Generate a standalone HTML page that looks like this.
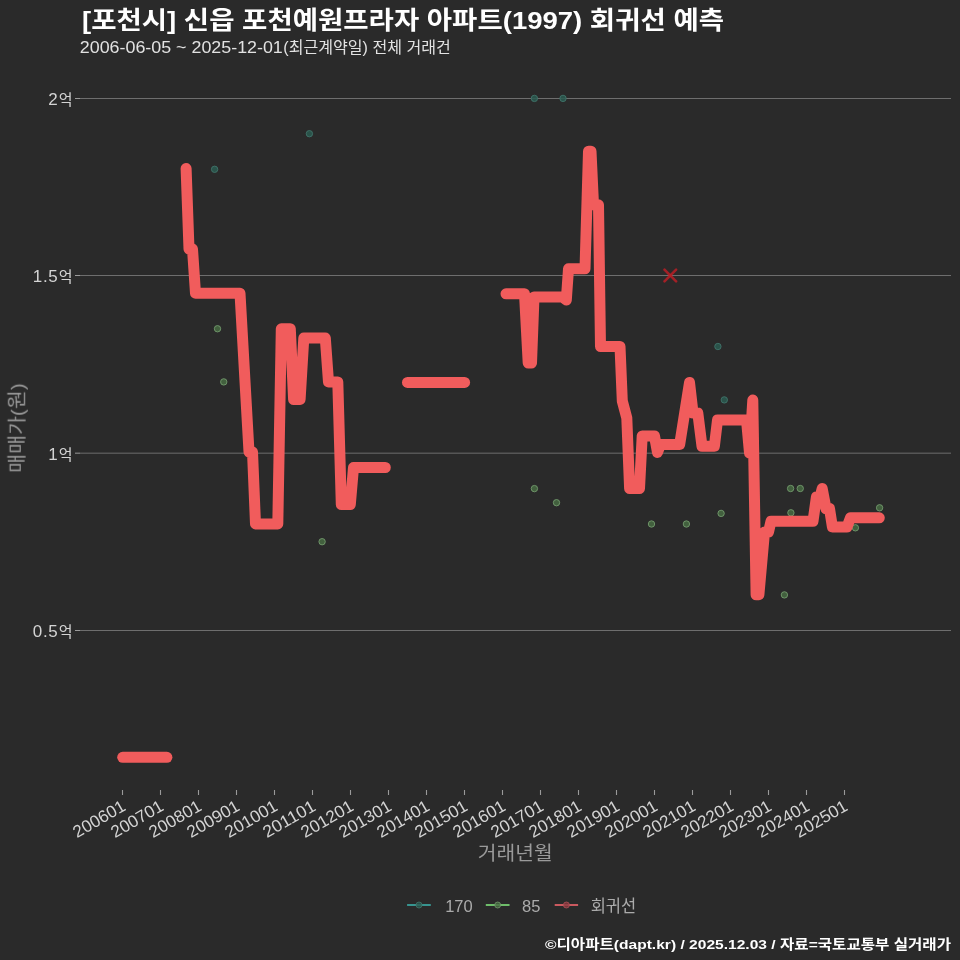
<!DOCTYPE html>
<html><head><meta charset="utf-8"><style>
html,body{margin:0;padding:0;background:#2a2a2a;}
svg{display:block;}
text{font-family:"Liberation Sans", "Noto Sans CJK KR", sans-serif;}
</style></head><body>
<svg width="960" height="960" viewBox="0 0 960 960">
<defs><filter id="gs" x="0" y="0" width="960" height="960" filterUnits="userSpaceOnUse"><feColorMatrix type="identity"/></filter></defs>
<rect width="960" height="960" fill="#2a2a2a"/>
<line x1="80" y1="98.5" x2="951" y2="98.5" stroke="#6e6e6e" stroke-width="1"/>
<line x1="75" y1="98.5" x2="80" y2="98.5" stroke="#9a9a9a" stroke-width="1"/>
<line x1="80" y1="275.5" x2="951" y2="275.5" stroke="#6e6e6e" stroke-width="1"/>
<line x1="75" y1="275.5" x2="80" y2="275.5" stroke="#9a9a9a" stroke-width="1"/>
<line x1="80" y1="453.17" x2="951" y2="453.17" stroke="#6e6e6e" stroke-width="1"/>
<line x1="75" y1="453.17" x2="80" y2="453.17" stroke="#9a9a9a" stroke-width="1"/>
<line x1="80" y1="630.5" x2="951" y2="630.5" stroke="#6e6e6e" stroke-width="1"/>
<line x1="75" y1="630.5" x2="80" y2="630.5" stroke="#9a9a9a" stroke-width="1"/>
<line x1="122.5" y1="790" x2="122.5" y2="795" stroke="#9a9a9a" stroke-width="1.1"/>
<line x1="160.5" y1="790" x2="160.5" y2="795" stroke="#9a9a9a" stroke-width="1.1"/>
<line x1="198.5" y1="790" x2="198.5" y2="795" stroke="#9a9a9a" stroke-width="1.1"/>
<line x1="236.5" y1="790" x2="236.5" y2="795" stroke="#9a9a9a" stroke-width="1.1"/>
<line x1="274.5" y1="790" x2="274.5" y2="795" stroke="#9a9a9a" stroke-width="1.1"/>
<line x1="312.5" y1="790" x2="312.5" y2="795" stroke="#9a9a9a" stroke-width="1.1"/>
<line x1="350.5" y1="790" x2="350.5" y2="795" stroke="#9a9a9a" stroke-width="1.1"/>
<line x1="388.5" y1="790" x2="388.5" y2="795" stroke="#9a9a9a" stroke-width="1.1"/>
<line x1="426.5" y1="790" x2="426.5" y2="795" stroke="#9a9a9a" stroke-width="1.1"/>
<line x1="464.5" y1="790" x2="464.5" y2="795" stroke="#9a9a9a" stroke-width="1.1"/>
<line x1="502.5" y1="790" x2="502.5" y2="795" stroke="#9a9a9a" stroke-width="1.1"/>
<line x1="540.5" y1="790" x2="540.5" y2="795" stroke="#9a9a9a" stroke-width="1.1"/>
<line x1="578.5" y1="790" x2="578.5" y2="795" stroke="#9a9a9a" stroke-width="1.1"/>
<line x1="616.5" y1="790" x2="616.5" y2="795" stroke="#9a9a9a" stroke-width="1.1"/>
<line x1="654.5" y1="790" x2="654.5" y2="795" stroke="#9a9a9a" stroke-width="1.1"/>
<line x1="692.5" y1="790" x2="692.5" y2="795" stroke="#9a9a9a" stroke-width="1.1"/>
<line x1="730.5" y1="790" x2="730.5" y2="795" stroke="#9a9a9a" stroke-width="1.1"/>
<line x1="768.5" y1="790" x2="768.5" y2="795" stroke="#9a9a9a" stroke-width="1.1"/>
<line x1="806.5" y1="790" x2="806.5" y2="795" stroke="#9a9a9a" stroke-width="1.1"/>
<line x1="844.5" y1="790" x2="844.5" y2="795" stroke="#9a9a9a" stroke-width="1.1"/>
<circle cx="214.6" cy="169.3" r="3.2" fill="#2a5a50" fill-opacity="0.85" stroke="#41736a" stroke-width="0.9"/>
<circle cx="309.4" cy="133.7" r="3.2" fill="#2a5a50" fill-opacity="0.85" stroke="#41736a" stroke-width="0.9"/>
<circle cx="534.4" cy="98.4" r="3.2" fill="#2a5a50" fill-opacity="0.85" stroke="#41736a" stroke-width="0.9"/>
<circle cx="563" cy="98.4" r="3.2" fill="#2a5a50" fill-opacity="0.85" stroke="#41736a" stroke-width="0.9"/>
<circle cx="717.9" cy="346.5" r="3.2" fill="#2a5a50" fill-opacity="0.85" stroke="#41736a" stroke-width="0.9"/>
<circle cx="724.3" cy="399.9" r="3.2" fill="#2a5a50" fill-opacity="0.85" stroke="#41736a" stroke-width="0.9"/>
<circle cx="217.5" cy="328.75" r="3.2" fill="#476a42" fill-opacity="0.85" stroke="#739a6d" stroke-width="0.9"/>
<circle cx="223.75" cy="381.9" r="3.2" fill="#476a42" fill-opacity="0.85" stroke="#739a6d" stroke-width="0.9"/>
<circle cx="322.1" cy="541.7" r="3.2" fill="#476a42" fill-opacity="0.85" stroke="#739a6d" stroke-width="0.9"/>
<circle cx="534.4" cy="488.6" r="3.2" fill="#476a42" fill-opacity="0.85" stroke="#739a6d" stroke-width="0.9"/>
<circle cx="556.5" cy="502.7" r="3.2" fill="#476a42" fill-opacity="0.85" stroke="#739a6d" stroke-width="0.9"/>
<circle cx="651.5" cy="524" r="3.2" fill="#476a42" fill-opacity="0.85" stroke="#739a6d" stroke-width="0.9"/>
<circle cx="686.4" cy="524" r="3.2" fill="#476a42" fill-opacity="0.85" stroke="#739a6d" stroke-width="0.9"/>
<circle cx="721.1" cy="513.4" r="3.2" fill="#476a42" fill-opacity="0.85" stroke="#739a6d" stroke-width="0.9"/>
<circle cx="790.6" cy="488.5" r="3.2" fill="#476a42" fill-opacity="0.85" stroke="#739a6d" stroke-width="0.9"/>
<circle cx="800.25" cy="488.5" r="3.2" fill="#476a42" fill-opacity="0.85" stroke="#739a6d" stroke-width="0.9"/>
<circle cx="790.9" cy="512.8" r="3.2" fill="#476a42" fill-opacity="0.85" stroke="#739a6d" stroke-width="0.9"/>
<circle cx="784.4" cy="594.9" r="3.2" fill="#476a42" fill-opacity="0.85" stroke="#739a6d" stroke-width="0.9"/>
<circle cx="879.6" cy="507.8" r="3.2" fill="#476a42" fill-opacity="0.85" stroke="#739a6d" stroke-width="0.9"/>
<circle cx="855.4" cy="527.8" r="3.2" fill="#476a42" fill-opacity="0.85" stroke="#739a6d" stroke-width="0.9"/>
<polyline points="122.7,757.3 166.9,757.3" fill="none" stroke="#f15c5c" stroke-width="11" stroke-linejoin="round" stroke-linecap="round"/>
<polyline points="186.1,168.5 189.0,249.0 192.5,249.0 195.5,293.3 240.0,293.3 249.0,452.0 252.5,452.0 255.5,523.9 277.8,523.9 281.3,328.8 290.3,328.8 293.6,399.5 300.1,399.5 303.8,338.0 325.3,338.0 328.5,382.0 337.8,382.0 341.3,504.6 350.3,504.6 353.5,467.5 385.3,467.5" fill="none" stroke="#f15c5c" stroke-width="11" stroke-linejoin="round" stroke-linecap="round"/>
<polyline points="407.5,382.4 464.6,382.4" fill="none" stroke="#f15c5c" stroke-width="11" stroke-linejoin="round" stroke-linecap="round"/>
<polyline points="506.0,293.8 524.5,293.8 528.2,363.0 531.5,363.0 534.0,297.0 562.5,297.0 566.3,300.0 568.5,268.8 585.0,268.8 588.5,151.3 591.0,151.3 593.5,204.8 598.5,204.8 600.5,346.5 620.0,346.5 622.3,401.0 626.8,418.0 629.6,488.5 639.5,488.5 642.2,435.9 654.5,435.9 657.5,452.4 660.5,444.4 679.7,444.4 689.5,382.5 693.0,413.0 697.8,413.0 702.0,446.2 714.4,446.2 717.5,420.1 746.5,420.1 749.5,453.0 752.8,400.1 756.1,594.8 758.9,594.8 764.5,532.0 768.5,532.0 771.0,521.3 813.0,521.3 816.4,497.1 820.0,497.1 822.2,488.6 826.0,508.6 829.5,508.6 832.4,527.0 847.0,527.0 850.5,517.8 879.3,517.8" fill="none" stroke="#f15c5c" stroke-width="11" stroke-linejoin="round" stroke-linecap="round"/>
<g stroke="#b81e26" stroke-opacity="0.85" stroke-width="2.6" stroke-linecap="round"><line x1="664.5" y1="269.7" x2="676.0999999999999" y2="281.3"/><line x1="664.5" y1="281.3" x2="676.0999999999999" y2="269.7"/></g>
<line x1="407.1" y1="905" x2="430.8" y2="905" stroke="#3aa8a2" stroke-width="1.7"/>
<circle cx="419.0" cy="905" r="3" fill="#2a5a50" fill-opacity="0.8" stroke="#41736a" stroke-width="0.8"/>
<line x1="485.8" y1="905" x2="509.6" y2="905" stroke="#7bd876" stroke-width="1.7"/>
<circle cx="497.7" cy="905" r="3" fill="#476a42" fill-opacity="0.8" stroke="#739a6d" stroke-width="0.8"/>
<line x1="554.7" y1="905" x2="578.1" y2="905" stroke="#e8636a" stroke-width="1.7"/>
<circle cx="566.4" cy="905" r="3" fill="#8a3a40" fill-opacity="0.8" stroke="#b05058" stroke-width="0.8"/>
<g filter="url(#gs)">
<text x="72.5" y="105.0" font-size="17" fill="#d4d4d4" text-anchor="end"><tspan letter-spacing="0.6">2</tspan><tspan font-size="15" dx="0.4">억</tspan></text>
<text x="72.5" y="282.3" font-size="17" fill="#d4d4d4" text-anchor="end"><tspan letter-spacing="0.6">1.5</tspan><tspan font-size="15" dx="0.4">억</tspan></text>
<text x="72.5" y="459.6" font-size="17" fill="#d4d4d4" text-anchor="end"><tspan letter-spacing="0.6">1</tspan><tspan font-size="15" dx="0.4">억</tspan></text>
<text x="72.5" y="636.9" font-size="17" fill="#d4d4d4" text-anchor="end"><tspan letter-spacing="0.6">0.5</tspan><tspan font-size="15" dx="0.4">억</tspan></text>
<text x="0" y="12" font-size="17" fill="#d4d4d4" text-anchor="end" textLength="57.5" lengthAdjust="spacingAndGlyphs" transform="translate(120.9,799.1) rotate(-30)">200601</text>
<text x="0" y="12" font-size="17" fill="#d4d4d4" text-anchor="end" textLength="57.5" lengthAdjust="spacingAndGlyphs" transform="translate(158.9,799.1) rotate(-30)">200701</text>
<text x="0" y="12" font-size="17" fill="#d4d4d4" text-anchor="end" textLength="57.5" lengthAdjust="spacingAndGlyphs" transform="translate(196.9,799.1) rotate(-30)">200801</text>
<text x="0" y="12" font-size="17" fill="#d4d4d4" text-anchor="end" textLength="57.5" lengthAdjust="spacingAndGlyphs" transform="translate(234.9,799.1) rotate(-30)">200901</text>
<text x="0" y="12" font-size="17" fill="#d4d4d4" text-anchor="end" textLength="57.5" lengthAdjust="spacingAndGlyphs" transform="translate(272.9,799.1) rotate(-30)">201001</text>
<text x="0" y="12" font-size="17" fill="#d4d4d4" text-anchor="end" textLength="57.5" lengthAdjust="spacingAndGlyphs" transform="translate(310.9,799.1) rotate(-30)">201101</text>
<text x="0" y="12" font-size="17" fill="#d4d4d4" text-anchor="end" textLength="57.5" lengthAdjust="spacingAndGlyphs" transform="translate(348.9,799.1) rotate(-30)">201201</text>
<text x="0" y="12" font-size="17" fill="#d4d4d4" text-anchor="end" textLength="57.5" lengthAdjust="spacingAndGlyphs" transform="translate(386.9,799.1) rotate(-30)">201301</text>
<text x="0" y="12" font-size="17" fill="#d4d4d4" text-anchor="end" textLength="57.5" lengthAdjust="spacingAndGlyphs" transform="translate(424.9,799.1) rotate(-30)">201401</text>
<text x="0" y="12" font-size="17" fill="#d4d4d4" text-anchor="end" textLength="57.5" lengthAdjust="spacingAndGlyphs" transform="translate(462.9,799.1) rotate(-30)">201501</text>
<text x="0" y="12" font-size="17" fill="#d4d4d4" text-anchor="end" textLength="57.5" lengthAdjust="spacingAndGlyphs" transform="translate(500.9,799.1) rotate(-30)">201601</text>
<text x="0" y="12" font-size="17" fill="#d4d4d4" text-anchor="end" textLength="57.5" lengthAdjust="spacingAndGlyphs" transform="translate(538.9,799.1) rotate(-30)">201701</text>
<text x="0" y="12" font-size="17" fill="#d4d4d4" text-anchor="end" textLength="57.5" lengthAdjust="spacingAndGlyphs" transform="translate(576.9,799.1) rotate(-30)">201801</text>
<text x="0" y="12" font-size="17" fill="#d4d4d4" text-anchor="end" textLength="57.5" lengthAdjust="spacingAndGlyphs" transform="translate(614.9,799.1) rotate(-30)">201901</text>
<text x="0" y="12" font-size="17" fill="#d4d4d4" text-anchor="end" textLength="57.5" lengthAdjust="spacingAndGlyphs" transform="translate(652.9,799.1) rotate(-30)">202001</text>
<text x="0" y="12" font-size="17" fill="#d4d4d4" text-anchor="end" textLength="57.5" lengthAdjust="spacingAndGlyphs" transform="translate(690.9,799.1) rotate(-30)">202101</text>
<text x="0" y="12" font-size="17" fill="#d4d4d4" text-anchor="end" textLength="57.5" lengthAdjust="spacingAndGlyphs" transform="translate(728.9,799.1) rotate(-30)">202201</text>
<text x="0" y="12" font-size="17" fill="#d4d4d4" text-anchor="end" textLength="57.5" lengthAdjust="spacingAndGlyphs" transform="translate(766.9,799.1) rotate(-30)">202301</text>
<text x="0" y="12" font-size="17" fill="#d4d4d4" text-anchor="end" textLength="57.5" lengthAdjust="spacingAndGlyphs" transform="translate(804.9,799.1) rotate(-30)">202401</text>
<text x="0" y="12" font-size="17" fill="#d4d4d4" text-anchor="end" textLength="57.5" lengthAdjust="spacingAndGlyphs" transform="translate(842.9,799.1) rotate(-30)">202501</text>
<text x="82" y="28.5" font-size="24.5" fill="#ffffff" font-weight="bold" textLength="642" lengthAdjust="spacingAndGlyphs">[포천시] 신읍 포천예원프라자 아파트(1997) 회귀선 예측</text>
<text x="79.8" y="53.2" font-size="16" fill="#e2e2e2" textLength="203" lengthAdjust="spacingAndGlyphs">2006-06-05 ~ 2025-12-01</text>
<text x="283.3" y="53.2" font-size="16" fill="#e2e2e2" textLength="167.5" lengthAdjust="spacingAndGlyphs">(최근계약일) 전체 거래건</text>
<text x="477.7" y="860.2" font-size="19" fill="#9a9a9a" textLength="75" lengthAdjust="spacingAndGlyphs">거래년월</text>
<text x="0" y="0" font-size="19" fill="#9a9a9a" textLength="89.5" lengthAdjust="spacingAndGlyphs" transform="translate(23.8,472.8) rotate(-90)">매매가(원)</text>
<text x="445.2" y="911.8" font-size="16.5" fill="#ababab">170</text>
<text x="522" y="911.8" font-size="16.5" fill="#ababab">85</text>
<text x="590.7" y="911.8" font-size="16.5" fill="#ababab">회귀선</text>
<text x="545" y="948.6" font-size="13.5" fill="#ffffff" font-weight="bold" textLength="406" lengthAdjust="spacingAndGlyphs">©디아파트(dapt.kr) / 2025.12.03 / 자료=국토교통부 실거래가</text>
</g>
</svg>
</body></html>
